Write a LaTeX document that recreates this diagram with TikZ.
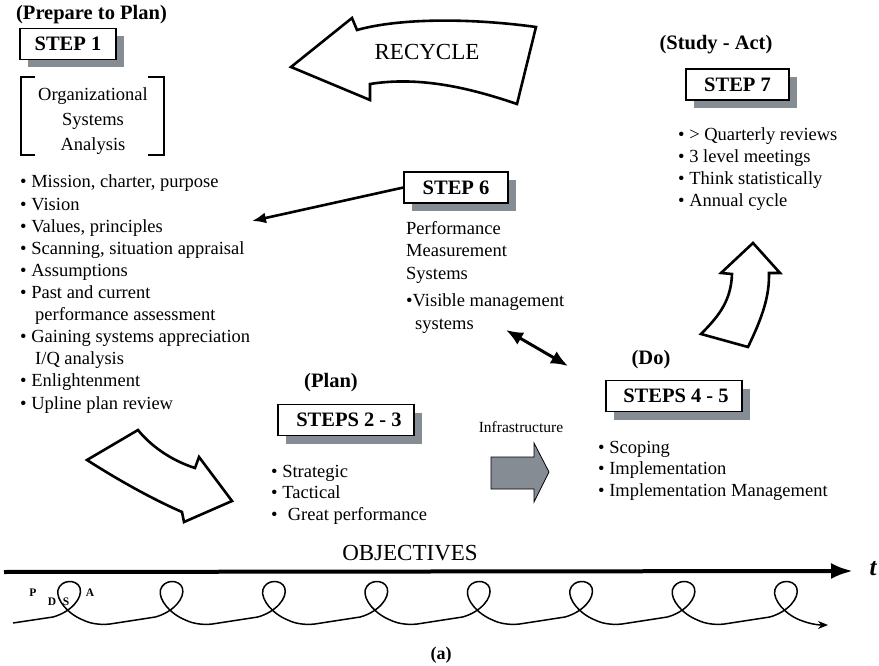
\documentclass[tikz,border=0pt]{standalone}
\usepackage{fontspec}
\setmainfont{Liberation Serif}
\usetikzlibrary{arrows.meta,shadows}
\definecolor{shade}{RGB}{134,140,147}
\newcommand\bodysize{\fontsize{18.5}{22}\selectfont}
\newcommand\labelsize{\fontsize{20.5}{24}\selectfont\bfseries}
\begin{document}
\begin{tikzpicture}[x=1pt,y=-1pt,
  stepbox/.style={draw=black,line width=1.2pt,fill=white,inner sep=0pt,
    font=\labelsize,minimum height=31pt,
    drop shadow={shadow xshift=8pt,shadow yshift=-8pt,fill=shade,opacity=1}},
  tag/.style={font=\labelsize,inner sep=0pt},
  body/.style={font=\bodysize,inner sep=0pt,anchor=base west},
  blockarrow/.style={draw=black,line width=2.6pt,line join=miter,fill=white},
  thickarrow/.style={line width=2.6pt,-{Latex[length=14pt,width=11pt]}},
]
\useasboundingbox (0,0) rectangle (879,666);

% ---- Step 1: prepare to plan ----
\node[tag] (prep) at (91.5,15) {(Prepare to Plan)};
\node[stepbox,minimum width=96pt] (s1) at (68,44) {STEP 1};
\node[font=\fontsize{18.5}{25}\selectfont,align=center,inner sep=0pt] (osa) at (93,121)
  {Organizational\\Systems\\Analysis};
\draw[line width=1.1pt] (35,77) -- (21,77) -- (21,155) -- (35,155);
\draw[line width=1.1pt] (148,77) -- (164,77) -- (164,155) -- (148,155);
\foreach \t [count=\k] in {
  {\textbullet\ Mission, charter, purpose},
  \textbullet\ Vision,
  {\textbullet\ Values, principles},
  {\textbullet\ Scanning, situation appraisal},
  \textbullet\ Assumptions,
  \textbullet\ Past and current,
  \hspace*{15pt}performance assessment,
  \textbullet\ Gaining systems appreciation,
  \hspace*{15pt}I/Q analysis,
  \textbullet\ Enlightenment,
  \textbullet\ Upline plan review}
  \node[body] (one\k) at (20,{188+22.1*(\k-1)}) {\t};

% ---- Recycle arrow ----
\draw[blockarrow] (291,67) -- (352,18) -- (357,30)
  .. controls (400,18) and (470,18) .. (536,27) -- (517,104)
  .. controls (470,88) and (420,76) .. (370,84) -- (370,100) -- cycle;
\node[font=\fontsize{23}{27}\selectfont,inner sep=0pt] (rec) at (427,52) {RECYCLE};

% ---- Step 7: study - act ----
\node[tag] (study) at (716,45) {(Study - Act)};
\node[stepbox,minimum width=103pt] (s7) at (737.5,84.5) {STEP 7};
\foreach \t [count=\k] in {
  \textbullet\ > Quarterly reviews,
  \textbullet\ 3 level meetings,
  \textbullet\ Think statistically,
  \textbullet\ Annual cycle}
  \node[body] (sev\k) at (678,{141+21.7*(\k-1)}) {\t};
\draw[blockarrow] (701,334) -- (748,347)
  .. controls (760,322) and (769,300) .. (769,276) -- (769,273) -- (780,273)
  -- (753,243) -- (721,273) -- (732,274)
  .. controls (731,300) and (720,315) .. (701,334) -- cycle;

% ---- Step 6: performance measurement ----
\node[stepbox,minimum width=104pt] (s6) at (456,187.5) {STEP 6};
\node[body] (pm1) at (406,235) {Performance};
\node[body] (pm2) at (406,257) {Measurement};
\node[body] (pm3) at (406,279) {Systems};
\node[body] (pm4) at (406,306) {\textbullet Visible management};
\node[body] (pm5) at (415,329) {systems};
\coordinate (listtip) at (252,221);
\draw[thickarrow] (s6.west) -- (listtip);
\coordinate (vm) at (506,330);
\coordinate (dotip) at (568,366);
\draw[line width=3pt,{Latex[length=17pt,width=14pt]}-{Latex[length=17pt,width=14pt]}] (vm) -- (dotip);

% ---- Steps 2-3: plan ----
\draw[blockarrow] (138,430) .. controls (150,445) and (170,460) .. (195,468)
  -- (199,457) -- (232,501) -- (184,522) -- (182,512)
  .. controls (150,498) and (115,478) .. (87,460) -- cycle;
\node[tag] (plan) at (331,383) {(Plan)};
\node[stepbox,minimum width=136pt] (s23) at (346,420) {\hspace*{6pt}STEPS 2 - 3};
\node[body] (pl1) at (271,477) {\textbullet\ Strategic};
\node[body] (pl2) at (271,498) {\textbullet\ Tactical};
\node[body] (pl3) at (271,520) {\textbullet\hspace{0.55em}Great performance};

% ---- Infrastructure arrow ----
\node[font=\fontsize{15.5}{18}\selectfont,inner sep=0pt] (infra) at (521,427) {Infrastructure};
\draw[fill=shade,draw=black,line width=0.8pt] (491,457) -- (534,457) -- (534,443)
  -- (549,472) -- (534,502) -- (534,489) -- (491,489) -- cycle;

% ---- Steps 4-5: do ----
\node[tag] (do) at (651,360) {(Do)};
\node[stepbox,minimum width=136pt] (s45) at (674,396) {\hspace*{4pt}STEPS 4 - 5};
\node[body] (do1) at (598,453) {\textbullet\ Scoping};
\node[body] (do2) at (598,474) {\textbullet\ Implementation};
\node[body] (do3) at (598,496) {\textbullet\ Implementation Management};

% ---- Time axis and PDSA spiral ----
\node[font=\fontsize{23}{27}\selectfont,inner sep=0pt] (obj) at (410,553) {OBJECTIVES};
\coordinate (t0) at (4,572);
\coordinate (t1) at (853,571);
\draw[line width=4pt,-{Latex[length=22pt,width=16pt]}] (t0) -- (t1);
\node[font=\fontsize{25}{28}\selectfont\bfseries\itshape,inner sep=0pt] (tt) at (873,569) {t};

\coordinate (sp0) at (13,623);
\coordinate (sp1) at (828,625);
\draw[line width=1.5pt,line join=round,-{Stealth[length=10pt,width=8pt]}] (sp0) -- (53,617)
  foreach \i [evaluate=\i as \cx using 63+\i*102.4] in {0,...,6} {
    .. controls (\cx+8,612) and (\cx+20,598) .. (\cx+17,588)
    .. controls (\cx+14,579) and (\cx-2,579) .. (\cx-5,590)
    .. controls (\cx-7,600) and (\cx+5,614) .. (\cx+20,620)
    .. controls (\cx+28,624) and (\cx+38,625) .. (\cx+47,624)
    -- (\cx+92.4,617)
  }
  .. controls (787.8,612) and (799.8,598) .. (796.8,588)
  .. controls (793.8,579) and (777.8,579) .. (774.8,590)
  .. controls (772.8,600) and (784.8,614) .. (799.8,620)
  .. controls (810,624) and (818,625) .. (sp1);
\node[font=\fontsize{11.5}{13}\selectfont\bfseries,inner sep=0pt] (lp) at (33,593) {P};
\node[font=\fontsize{11.5}{13}\selectfont\bfseries,inner sep=0pt] (ld) at (52,602) {D};
\node[font=\fontsize{11.5}{13}\selectfont\bfseries,inner sep=0pt] (ls) at (66,602) {S};
\node[font=\fontsize{11.5}{13}\selectfont\bfseries,inner sep=0pt] (la) at (90,593) {A};

\node[font=\fontsize{18}{21}\selectfont\bfseries,inner sep=0pt] (cap) at (441,655) {(a)};
\end{tikzpicture}
\end{document}
